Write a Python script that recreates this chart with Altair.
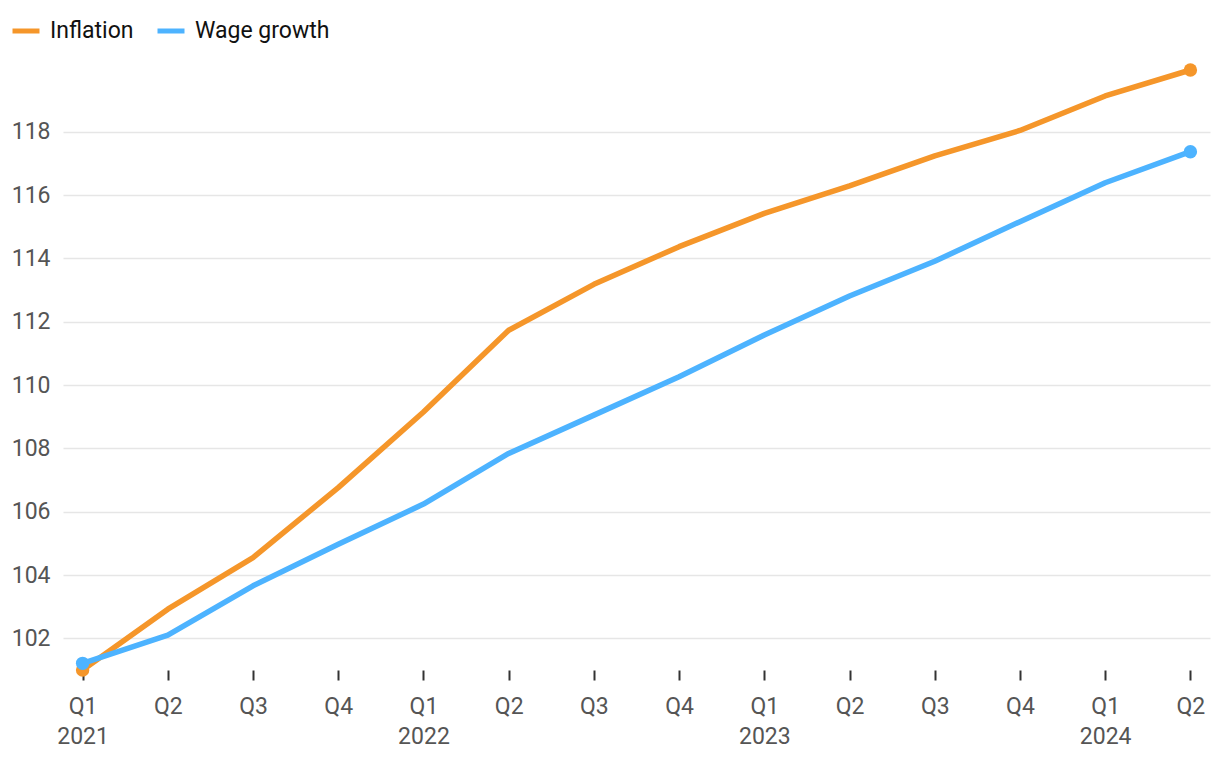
import altair as alt
import pandas as pd

periods = ["Q1|2021", "Q2|2021", "Q3|2021", "Q4|2021",
           "Q1|2022", "Q2|2022", "Q3|2022", "Q4|2022",
           "Q1|2023", "Q2|2023", "Q3|2023", "Q4|2023",
           "Q1|2024", "Q2|2024"]
inflation = [101.0, 102.92, 104.55, 106.76, 109.15, 111.73, 113.18, 114.37,
             115.42, 116.29, 117.24, 118.04, 119.13, 119.95]
wage = [101.21, 102.1, 103.66, 104.97, 106.24, 107.84, 109.05, 110.26,
        111.58, 112.81, 113.91, 115.16, 116.39, 117.37]
series = ["Inflation", "Wage growth"]
colors = ["#F5962A", "#4DB3FF"]
y_ticks = [102, 104, 106, 108, 110, 112, 114, 116, 118]

rows = []
for i, p in enumerate(periods):
    rows.append({"period": p, "series": series[0], "value": inflation[i], "order": i, "idx": 0})
    rows.append({"period": p, "series": series[1], "value": wage[i], "order": i, "idx": 1})
df = pd.DataFrame(rows)
n = len(periods)

FS = 23

x_enc = alt.X("period:N", sort=periods, title=None,
              scale=alt.Scale(type="point", padding=0.23),
              axis=alt.Axis(labelExpr="indexof(datum.value, 'Q1') == 0 ? split(datum.value, '|') : slice(datum.value, 0, 2)",
                            labelAngle=0, domain=False, ticks=True, tickSize=10,
                            tickColor="#333333", tickWidth=2, grid=False,
                            labelFont="Roboto", labelFontSize=FS, labelColor="#555555",
                            labelLineHeight=30, labelPadding=15, labelBaseline="top"))
y_enc = alt.Y("value:Q", title=None,
              scale=alt.Scale(zero=False, nice=False),
              axis=alt.Axis(values=y_ticks, domain=False, ticks=False, grid=True,
                            gridColor="#E6E6E6", gridWidth=1.5,
                            labelFont="Roboto", labelFontSize=FS, labelColor="#555555",
                            labelPadding=13))
color_enc = alt.Color("series:N", scale=alt.Scale(domain=series, range=colors),
                      legend=alt.Legend(title=None, orient="none", direction="horizontal",
                                        legendX=-53, legendY=-55,
                                        symbolType="stroke", symbolStrokeWidth=5,
                                        symbolSize=729, labelFont="Roboto",
                                        labelFontSize=FS, labelColor="#111111",
                                        labelOffset=8, columnPadding=13))

lines = alt.Chart(df).mark_line(strokeWidth=5.5, strokeCap="round", strokeJoin="round").encode(
    x=x_enc, y=y_enc, color=color_enc, order="order:Q", detail="series:N")

pts = alt.Chart(df).transform_filter(
    f"datum.order == 0 || datum.order == {n-1}"
).mark_circle(size=180, opacity=1).encode(
    x=alt.X("period:N", sort=periods),
    y="value:Q",
    color=alt.Color("series:N", scale=alt.Scale(domain=series, range=colors), legend=None),
    order="idx:Q")

chart = alt.layer(lines, pts).properties(
    width=1147, height=600,
    autosize=alt.AutoSizeParams(type="none"),
    padding={"left": 55, "top": 62, "right": 2, "bottom": 90},
).configure(font="Roboto", view=alt.ViewConfig(stroke=None))

chart.save("out.html", embed_options={"renderer": "svg", "actions": False})
